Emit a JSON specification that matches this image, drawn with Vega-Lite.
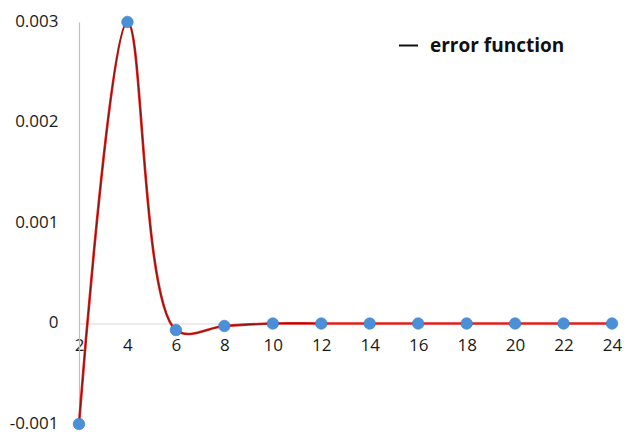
{
  "$schema": "https://vega.github.io/schema/vega-lite/v6.json",
  "width": 533,
  "height": 402,
  "autosize": {"type": "none"},
  "padding": {"left": 79, "top": 22, "right": 15, "bottom": 8},
  "background": "white",
  "config": {"view": {"stroke": null}, "font": "Open Sans"},
  "data": {
    "values": [
      {"n": 2, "err": -0.001},
      {"n": 4, "err": 0.003},
      {"n": 6, "err": -0.000065},
      {"n": 8, "err": -0.000025},
      {"n": 10, "err": 0},
      {"n": 12, "err": 0},
      {"n": 14, "err": 0},
      {"n": 16, "err": 0},
      {"n": 18, "err": 0},
      {"n": 20, "err": 0},
      {"n": 22, "err": 0},
      {"n": 24, "err": 0}
    ]
  },
  "encoding": {
    "x": {
      "field": "n",
      "type": "quantitative",
      "scale": {"domain": [2, 24], "nice": false, "zero": false},
      "axis": {
        "title": null,
        "values": [2, 4, 6, 8, 10, 12, 14, 16, 18, 20, 22, 24],
        "grid": false,
        "ticks": false,
        "offset": -100.5,
        "domainColor": "#d9d9d9",
        "domainWidth": 1.2,
        "labelFontSize": 17,
        "labelColor": "#1a1a1a",
        "labelPadding": 14,
        "labelFlush": false
      }
    },
    "y": {
      "field": "err",
      "type": "quantitative",
      "scale": {"domain": [-0.001, 0.003], "nice": false},
      "axis": {
        "title": null,
        "values": [-0.001, 0, 0.001, 0.002, 0.003],
        "labelExpr": "datum.value == 0 ? '0' : (datum.value < 0 ? '-' + format(-datum.value, '.3f') : format(datum.value, '.3f'))",
        "grid": false,
        "ticks": false,
        "domainColor": "#b4bfd4",
        "domainWidth": 1.2,
        "labelFontSize": 17,
        "labelColor": "#1a1a1a",
        "labelPadding": 21,
        "labelOffset": -1
      }
    }
  },
  "layer": [
    {
      "mark": {"type": "line", "interpolate": "catmull-rom", "color": "#e3201b", "strokeWidth": 2.6}
    },
    {
      "transform": [{"filter": "datum.n <= 12"}],
      "mark": {"type": "line", "interpolate": "catmull-rom", "strokeWidth": 0.6, "opacity": 0.85},
      "encoding": {
        "color": {
          "datum": "error function",
          "scale": {"range": ["#111111"]},
          "legend": {
            "title": null,
            "orient": "none",
            "legendX": 319,
            "legendY": 13,
            "symbolType": "stroke",
            "symbolSize": 361,
            "symbolStrokeWidth": 2,
            "symbolOpacity": 1,
            "labelFontSize": 19,
            "labelFontWeight": "bold",
            "labelColor": "#111111",
            "labelOffset": 11
          }
        }
      }
    },
    {
      "mark": {"type": "point", "filled": true, "size": 135, "color": "#4a90d9", "stroke": "#3a7cc0", "strokeWidth": 0.6, "opacity": 1}
    }
  ]
}
